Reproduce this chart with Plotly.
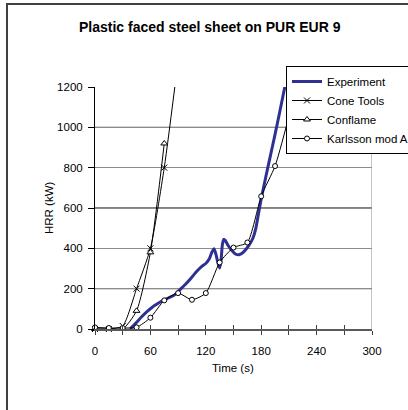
import plotly.graph_objects as go

# Heat release rate, plastic faced steel sheet on PUR (EUR 9)
exp_t = [38, 44, 50, 56, 62, 68, 74, 80, 86, 92, 98, 104, 110, 116, 120, 124, 127, 129,
         131, 133, 135, 136.5, 138, 139.5, 141, 144, 148, 152, 156, 160, 164, 168, 171,
         174, 177, 180, 185, 190, 195, 200, 206]
exp_hrr = [0, 28, 58, 85, 108, 126, 143, 155, 168, 195, 222, 252, 285, 312, 325, 350, 385, 398,
           370, 330, 302, 340, 420, 444, 440, 415, 390, 372, 368, 378, 398, 424, 450,
           495, 570, 645, 755, 860, 965, 1075, 1210]

cone_t = [0, 15, 30, 45, 60, 75, 90]
cone_hrr = [0, 0, 15, 200, 400, 800, 1330]

conflame_t = [0, 15, 30, 45, 60, 75]
conflame_hrr = [0, 0, 0, 90, 380, 920]

karlsson_t = [0, 15, 30, 45, 60, 75, 90, 105, 120, 135, 150, 165, 180, 195, 210]
karlsson_hrr = [8, 5, 5, 8, 56, 142, 178, 145, 178, 330, 404, 429, 658, 808, 1054]

y_ticks = [0, 200, 400, 600, 800, 1000, 1200]
x_ticks = [0, 60, 120, 180, 240, 300]

FONT = "Arial, 'Liberation Sans', sans-serif"

fig = go.Figure()
fig.add_trace(go.Scatter(
    x=exp_t, y=exp_hrr, name="Experiment", mode="lines",
    line=dict(color="#2E3192", width=3, shape="spline", smoothing=0.5),
))
fig.add_trace(go.Scatter(
    x=cone_t, y=cone_hrr, name="Cone Tools", mode="lines+markers", cliponaxis=False,
    line=dict(color="black", width=1, shape="spline", smoothing=0.6),
    marker=dict(symbol="x-thin", size=6, line=dict(color="black", width=1)),
))
fig.add_trace(go.Scatter(
    x=conflame_t, y=conflame_hrr, name="Conflame", mode="lines+markers", cliponaxis=False,
    line=dict(color="black", width=1, shape="spline", smoothing=0.6),
    marker=dict(symbol="triangle-up", size=6, color="white", line=dict(color="black", width=1)),
))
fig.add_trace(go.Scatter(
    x=karlsson_t, y=karlsson_hrr, name="Karlsson mod A", mode="lines+markers", cliponaxis=False,
    line=dict(color="black", width=1, shape="spline", smoothing=0.6),
    marker=dict(symbol="circle", size=5, color="white", line=dict(color="black", width=1)),
))

# crossing tick marks on the time axis (inner half)
fig.add_trace(go.Scatter(x=[0], y=[None], xaxis="x2", showlegend=False, hoverinfo="skip"))

shapes = []
# alternating dark grid lines
for v in y_ticks[1::2]:
    shapes.append(dict(type="line", xref="paper", yref="y", x0=0, x1=1, y0=v, y1=v,
                       line=dict(color="black", width=1), layer="between"))
# right edge of the plot area
shapes.append(dict(type="line", xref="x", yref="y", x0=300, x1=300, y0=0, y1=1200,
                   line=dict(color="#8c8c8c", width=1), layer="between"))
# chart frame
shapes.append(dict(type="rect", xref="paper", yref="paper", x0=-0.3177, x1=1.3, y0=-0.6, y1=1.343,
                   line=dict(color="#404040", width=2), layer="below"))

fig.update_layout(
    width=408, height=410,
    margin=dict(l=95, r=36, t=87, b=81, autoexpand=False),
    paper_bgcolor="white", plot_bgcolor="white",
    font=dict(family=FONT, size=11.5, color="black"),
    showlegend=True,
    legend=dict(x=0.6895, y=1.0868, xanchor="left", yanchor="top",
                bgcolor="white", bordercolor="black", borderwidth=1,
                font=dict(family=FONT, size=11.5, color="black"),
                itemwidth=30, tracegroupgap=0),
    xaxis=dict(range=[0, 300], tickvals=x_ticks, ticks="outside", ticklen=4, tickwidth=1,
               tickcolor="#404040", showline=True, linecolor="#5a5a5a", linewidth=2,
               showgrid=False, zeroline=False, ticklabelstandoff=6,
               minor=dict(dtick=30, tick0=0, ticks="outside", ticklen=4, tickcolor="#404040",
                          tickwidth=1, showgrid=False),
               tickfont=dict(family=FONT, size=11.5)),
    xaxis2=dict(range=[0, 300], overlaying="x", anchor="y", side="bottom", dtick=30,
                ticks="inside", ticklen=4, tickwidth=1, tickcolor="#404040",
                showticklabels=False, showgrid=False, zeroline=False, showline=False),
    yaxis=dict(range=[0, 1200], tickvals=y_ticks, ticks="outside", ticklen=6, tickwidth=1,
               tickcolor="black", showline=True, linecolor="black", linewidth=1,
               showgrid=True, gridcolor="#8c8c8c", gridwidth=1, zeroline=False,
               ticklabelstandoff=3, tickfont=dict(family=FONT, size=11.5)),
    shapes=shapes,
    annotations=[
        dict(text="<b>Plastic faced steel sheet on PUR EUR 9</b>", xref="paper", yref="paper",
             x=0.4134, y=1.248, xanchor="center", yanchor="middle", showarrow=False,
             font=dict(family=FONT, size=14, color="black")),
        dict(text="Time (s)", xref="paper", yref="paper", x=0.499, y=-0.161,
             xanchor="center", yanchor="middle", showarrow=False,
             font=dict(family=FONT, size=11.5, color="black")),
        dict(text="HRR (kW)", xref="paper", yref="paper", x=-0.166, y=0.5, textangle=-90,
             xanchor="center", yanchor="middle", showarrow=False,
             font=dict(family=FONT, size=11.5, color="black")),
    ],
)

fig.write_html("out.html")
